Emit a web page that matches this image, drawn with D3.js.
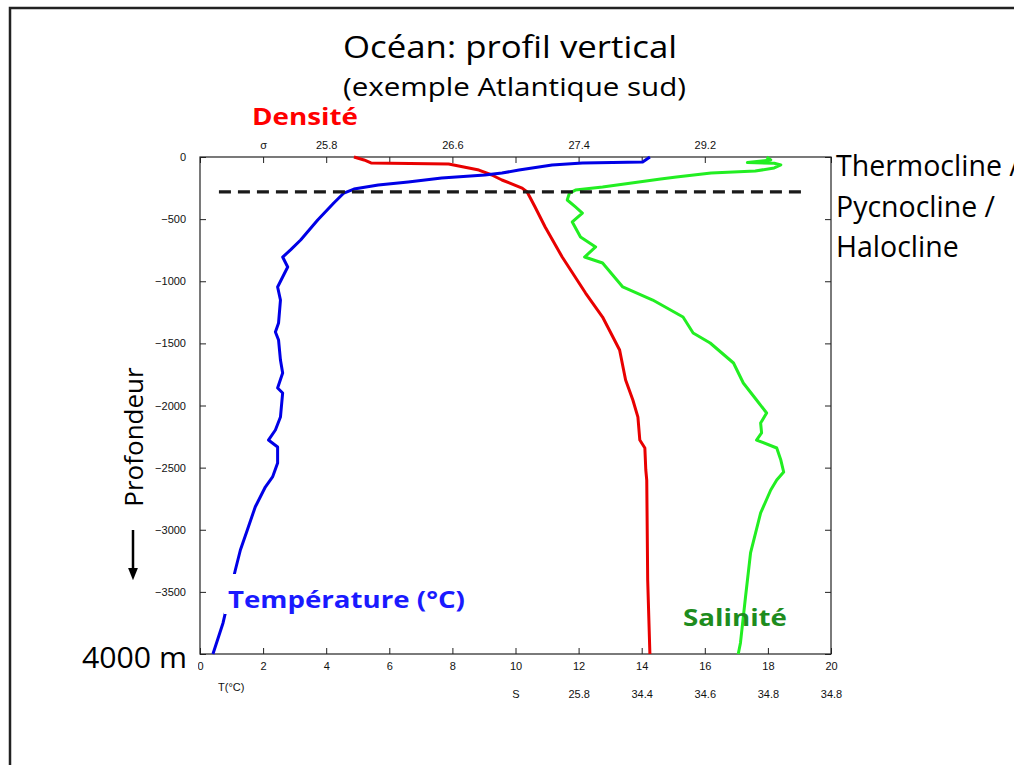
<html>
<head>
<meta charset="utf-8">
<style>
  body { margin: 0; background: #fff; }
  text { font-family: "Liberation Sans", Arial, sans-serif; }
  .big { font-family: "Open Sans", sans-serif; }
</style>
</head>
<body>
<script src="https://d3js.org/d3.v7.min.js"></script>
<script>
// depths (m, negative downward) and positions on the shared T axis
var tempDepth = [0,-40,-48,-64,-105,-129,-145,-169,-201,-225,-258,-290,-370,-507,-668,-748,-805,-885,-1046,-1151,-1336,-1408,-1473,-1634,-1738,-1859,-1899,-2093,-2197,-2278,-2334,-2463,-2575,-2656,-2817,-3002,-3163,-3324,-3750,-4000]
var tempValue = [14.26,14.03,12.12,11.16,10.11,9.57,9.03,7.66,6.60,5.65,4.88,4.56,4.24,3.73,3.19,2.87,2.62,2.78,2.46,2.55,2.49,2.39,2.49,2.55,2.62,2.46,2.62,2.55,2.39,2.17,2.46,2.46,2.30,2.07,1.75,1.50,1.28,1.12,0.73,0.41]

var densDepth = [0,-24,-48,-56,-105,-145,-185,-250,-282,-402,-563,-805,-1095,-1288,-1553,-1795,-1956,-2093,-2278,-2342,-2519,-2600,-3404,-4000]
var densValue = [4.88,5.20,5.42,7.88,8.84,9.25,9.57,10.21,10.37,10.62,10.94,11.48,12.22,12.76,13.30,13.49,13.72,13.88,13.94,14.10,14.13,14.16,14.19,14.26]

var salDepth = [0,-24,-45,-50,-64,-88,-113,-129,-161,-177,-241,-266,-290,-346,-402,-451,-523,-644,-724,-805,-853,-1046,-1151,-1288,-1416,-1497,-1658,-1819,-1956,-2060,-2141,-2221,-2278,-2342,-2439,-2535,-2600,-2680,-2865,-3187,-3541,-3911,-4000]
var salValue = [17.96,18.09,17.35,18.20,18.41,18.20,17.60,16.20,15.10,14.60,12.76,11.90,11.71,11.64,11.90,12.12,11.80,12.06,12.54,12.19,12.76,13.40,14.35,15.31,15.63,16.17,16.91,17.22,17.64,17.96,17.77,17.80,17.64,18.28,18.41,18.50,18.28,18.09,17.77,17.45,17.29,17.13,17.06]

var clineDepth = -280
var clineFrom = 0.6
var clineTo = 19.05

var depthTicks = [0,-500,-1000,-1500,-2000,-2500,-3000,-3500,-4000]
var depthLabeled = [0,-500,-1000,-1500,-2000,-2500,-3000,-3500]
var tTicks = [0,2,4,6,8,10,12,14,16,18,20]
var sigmaPos = [2,4,8,12,16]
var sigmaLabels = ["σ","25.8","26.6","27.4","29.2"]
var sPos = [10,12,14,16,18,20]
var sLabels = ["S","25.8","34.4","34.6","34.8","34.8"]

var width = 1014
var height = 765
var svg = d3.select('body').append('svg')
    .attr('width', width)
    .attr('height', height)

var plot = {left:200, right:831, top:157, bottom:654}

var x = d3.scaleLinear().domain([0,20]).range([plot.left, plot.right])
var y = d3.scaleLinear().domain([0,-4000]).range([plot.top, plot.bottom])

// slide border
svg.append('path')
    .attr('d', 'M10,765 L10,8 L1014,8')
    .attr('fill','none')
    .attr('stroke','#222')
    .attr('stroke-width',2.5)

function bigText(str, px, py, size, len, color, weight) {
    var t = svg.append('text')
        .attr('class','big')
        .attr('x', px)
        .attr('y', py)
        .attr('font-size', size)
        .attr('fill', color || '#000')
        .attr('font-weight', weight || 'normal')
        .text(str)
    if (len) t.attr('textLength', len).attr('lengthAdjust','spacingAndGlyphs')
    return t
}

bigText('Océan: profil vertical', 343, 58, 31, 334)
bigText('(exemple Atlantique sud)', 343, 96, 25, 343)

// axes
function styleAxis(g) {
    g.selectAll('.domain').remove()
    g.selectAll('line').attr('stroke','#222')
    g.selectAll('text').attr('font-size',11).attr('fill','#111')
        .attr('font-family','"Liberation Sans", Arial, sans-serif')
}

svg.append('g')
    .attr('transform','translate('+plot.left+',0)')
    .call(d3.axisLeft(y).tickValues(depthTicks).tickSize(-6).tickFormat(''))
    .call(styleAxis)

svg.append('g')
    .attr('transform','translate('+plot.left+',0)')
    .call(d3.axisLeft(y).tickValues(depthLabeled).tickSize(0).tickPadding(14)
        .tickFormat(function(d){ return d === 0 ? '0' : '\u2212' + Math.abs(d) }))
    .call(styleAxis)

svg.append('g')
    .attr('transform','translate('+plot.right+',0)')
    .call(d3.axisRight(y).tickValues(depthTicks).tickSize(-6).tickFormat(''))
    .call(styleAxis)

svg.append('g')
    .attr('transform','translate(0,'+plot.bottom+')')
    .call(d3.axisBottom(x).tickValues(tTicks).tickSize(-6).tickPadding(8))
    .call(styleAxis)

svg.append('g')
    .attr('transform','translate(0,'+plot.top+')')
    .call(d3.axisTop(x).tickValues(tTicks).tickSize(-6).tickFormat(''))
    .call(styleAxis)

svg.append('g')
    .attr('transform','translate(0,'+(plot.top - 4)+')')
    .call(d3.axisTop(x).tickValues(sigmaPos).tickSize(0).tickPadding(4)
        .tickFormat(function(d,i){ return sigmaLabels[i] }))
    .call(styleAxis)

svg.append('g')
    .attr('transform','translate(0,'+(plot.bottom + 32)+')')
    .call(d3.axisBottom(x).tickValues(sPos).tickSize(0).tickPadding(4)
        .tickFormat(function(d,i){ return sLabels[i] }))
    .call(styleAxis)

svg.append('text')
    .attr('x', 218).attr('y', 691)
    .attr('font-size', 11).attr('fill','#111')
    .text('T(°C)')

// frame
svg.append('rect')
    .attr('x', plot.left).attr('y', plot.top)
    .attr('width', plot.right - plot.left)
    .attr('height', plot.bottom - plot.top)
    .attr('fill','none')
    .attr('stroke','#222')
    .attr('stroke-width',1.2)

// profiles
var line = d3.line()
    .x(function(d){ return x(d[1]) })
    .y(function(d){ return y(d[0]) })

function profile(depths, values, color) {
    svg.append('path')
        .datum(d3.zip(depths, values))
        .attr('d', line)
        .attr('fill','none')
        .attr('stroke', color)
        .attr('stroke-width', 3)
        .attr('stroke-linejoin','round')
}

profile(densDepth, densValue, '#e80000')
profile(tempDepth, tempValue, '#0000e6')
profile(salDepth, salValue, '#22ee22')

// thermocline dashed line
svg.append('line')
    .attr('x1', x(clineFrom)).attr('x2', x(clineTo))
    .attr('y1', y(clineDepth)).attr('y2', y(clineDepth))
    .attr('stroke','#1a1a1a')
    .attr('stroke-width',3.2)
    .attr('stroke-dasharray','12,7')

// labels (boxes hide what sits under them, as in the slide)
svg.append('rect').attr('x',224).attr('y',574).attr('width',246).attr('height',40).attr('fill','#fff')
bigText('Température (°C)', 228, 608, 23, 237, '#1a1aff', 'bold')
bigText('Salinité', 683, 626, 23, 104, '#1e8c1e', 'bold')
bigText('Densité', 252, 125, 23, 106, '#ff0000', 'bold')

svg.append('rect').attr('x',78).attr('y',638).attr('width',120).attr('height',40).attr('fill','#fff')
bigText('4000 m', 82, 668, 29, 105)

bigText('Thermocline /', 836, 176, 28.5)
bigText('Pycnocline /', 836, 217, 28.5)
bigText('Halocline', 836, 257, 28.5)

svg.append('text')
    .attr('class','big')
    .attr('transform','translate(143,437) rotate(-90)')
    .attr('text-anchor','middle')
    .attr('font-size', 26)
    .text('Profondeur')

svg.append('defs').append('marker')
    .attr('id','head')
    .attr('viewBox','0 0 10 10')
    .attr('refX',5).attr('refY',5)
    .attr('markerWidth',5).attr('markerHeight',5)
    .attr('orient','auto')
    .append('path').attr('d','M0,1 L10,5 L0,9 Z').attr('fill','#000')

svg.append('line')
    .attr('x1',133).attr('x2',133)
    .attr('y1',530).attr('y2',574)
    .attr('stroke','#000')
    .attr('stroke-width',2.5)
    .attr('marker-end','url(#head)')
</script>
</body>
</html>
